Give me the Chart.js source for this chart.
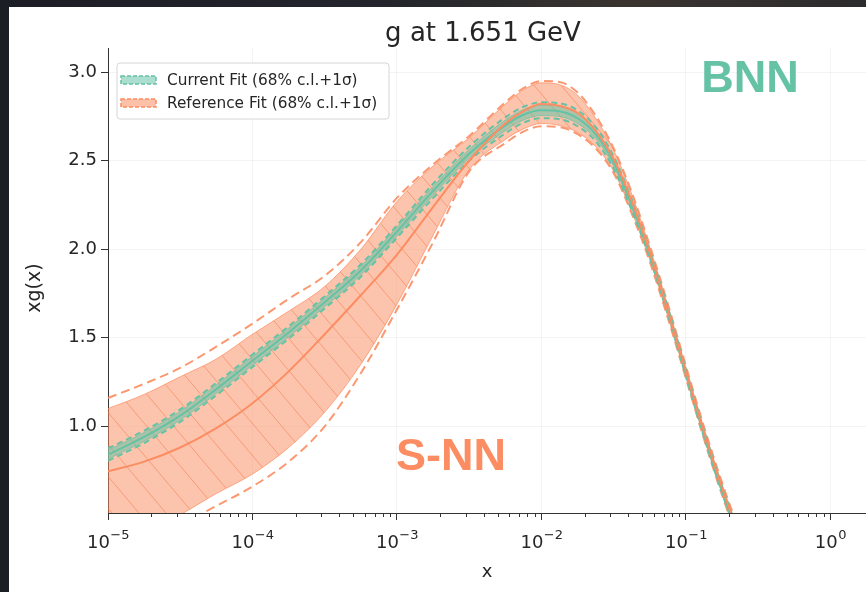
<!DOCTYPE html>
<html>
<head>
<meta charset="utf-8">
<script src="https://cdn.jsdelivr.net/npm/chart.js@4.4.1/dist/chart.umd.min.js"></script>
<style>
  html, body { margin: 0; padding: 0; width: 866px; height: 592px; overflow: hidden; }
  body { background: linear-gradient(90deg, #1b1e24 0%, #22252b 45%, #3a342f 72%, #2c2b2d 100%); position: relative; }
  #frame { position: absolute; left: 9px; top: 7px; width: 857px; height: 585px; background: #ffffff; }
  canvas { display: block; }
</style>
</head>
<body>
<div id="frame"><canvas id="pdf" width="857" height="585"></canvas></div>
<script>
// x grid of the PDF evaluation
const xValues = [1e-5, 1.78e-5, 3.16e-5, 5.62e-5, 1e-4, 1.78e-4, 3.16e-4, 5.62e-4, 1e-3, 1.78e-3,
                 3.16e-3, 5.62e-3, 7.5e-3, 1e-2, 1.33e-2, 1.78e-2, 2.37e-2, 3.16e-2, 4.22e-2, 5.62e-2,
                 7.5e-2, 0.1, 0.133, 0.178, 0.316];

// Current fit (BNN): central value, 68% c.l. band, 1-sigma band
const currentCentral = [0.84, 0.94, 1.06, 1.21, 1.37, 1.53, 1.70, 1.88, 2.10, 2.33,
                        2.54, 2.70, 2.76, 2.785, 2.78, 2.74, 2.65, 2.49, 2.25, 1.97,
                        1.65, 1.30, 0.96, 0.63, 0.08];
const currentCLUpper = [0.865, 0.965, 1.085, 1.235, 1.395, 1.555, 1.725, 1.905, 2.125, 2.355,
                        2.565, 2.73, 2.79, 2.815, 2.81, 2.77, 2.675, 2.51, 2.27, 1.985,
                        1.665, 1.315, 0.975, 0.655, 0.095];
const currentCLLower = [0.815, 0.915, 1.035, 1.185, 1.345, 1.505, 1.675, 1.855, 2.075, 2.305,
                        2.515, 2.67, 2.73, 2.755, 2.75, 2.71, 2.625, 2.47, 2.23, 1.955,
                        1.635, 1.285, 0.945, 0.625, 0.065];
const currentSigmaUpper = [0.875, 0.975, 1.095, 1.245, 1.405, 1.565, 1.735, 1.915, 2.135, 2.37,
                           2.58, 2.745, 2.805, 2.83, 2.825, 2.785, 2.69, 2.525, 2.28, 1.99,
                           1.67, 1.32, 0.98, 0.66, 0.10];
const currentSigmaLower = [0.805, 0.905, 1.025, 1.175, 1.335, 1.495, 1.665, 1.845, 2.065, 2.29,
                           2.50, 2.655, 2.715, 2.74, 2.735, 2.695, 2.61, 2.455, 2.22, 1.95,
                           1.63, 1.28, 0.94, 0.62, 0.06];

// Reference fit (S-NN): central value, 68% c.l. band, 1-sigma band
const referenceCentral = [0.745, 0.80, 0.88, 0.99, 1.13, 1.31, 1.52, 1.74, 1.97, 2.24,
                          2.50, 2.71, 2.78, 2.82, 2.81, 2.77, 2.67, 2.51, 2.27, 1.98,
                          1.65, 1.31, 0.97, 0.65, 0.09];
const referenceCLUpper = [1.10, 1.18, 1.28, 1.38, 1.52, 1.65, 1.79, 2.00, 2.27, 2.47,
                          2.63, 2.82, 2.90, 2.94, 2.93, 2.87, 2.74, 2.56, 2.31, 2.01,
                          1.68, 1.33, 0.99, 0.67, 0.11];
const referenceCLLower = [0.30, 0.40, 0.50, 0.62, 0.73, 0.88, 1.08, 1.35, 1.69, 2.08,
                          2.45, 2.62, 2.68, 2.71, 2.70, 2.66, 2.58, 2.44, 2.21, 1.94,
                          1.62, 1.28, 0.94, 0.62, 0.06];
const referenceSigmaUpper = [1.16, 1.24, 1.33, 1.45, 1.58, 1.72, 1.85, 2.04, 2.29, 2.48,
                             2.64, 2.83, 2.91, 2.95, 2.945, 2.885, 2.755, 2.57, 2.32, 2.02,
                             1.69, 1.34, 1.00, 0.68, 0.12];
const referenceSigmaLower = [0.22, 0.32, 0.44, 0.55, 0.66, 0.80, 1.00, 1.30, 1.66, 2.04,
                             2.44, 2.60, 2.665, 2.695, 2.69, 2.65, 2.57, 2.43, 2.20, 1.93,
                             1.61, 1.27, 0.93, 0.61, 0.05];

// axis ticks
const xMajorTicks = [1e-5, 1e-4, 1e-3, 1e-2, 1e-1, 1];
const xTickBase = '10';
const xTickExponents = ['\u22125', '\u22124', '\u22123', '\u22122', '\u22121', '0'];
const minorMultipliers = [2, 3, 4, 5, 6, 7, 8, 9];
const yTicks = [1.0, 1.5, 2.0, 2.5, 3.0];
const yTickLabels = ['1.0', '1.5', '2.0', '2.5', '3.0'];

const titleText = 'g at 1.651 GeV';
const yTitleText = 'xg(x)';
const legendItems = [
  { label: 'Current Fit (68% c.l.+1\u03C3)', fill: 'rgba(102,194,165,0.55)', edge: '#66c2a5' },
  { label: 'Reference Fit (68% c.l.+1\u03C3)', fill: 'rgba(252,141,98,0.55)', edge: '#fc8d62' }
];

const GREEN = '#66c2a5';
const ORANGE = '#fc8d62';
const TEXT = '#262626';
const FONT = '"DejaVu Sans", "Liberation Sans", sans-serif';

function pts(series) {
  return xValues.map((x, i) => ({ x: x, y: series[i] }));
}

// hatched fill for the reference band
function hatchPattern() {
  const w = 27, h = 32;
  const c = document.createElement('canvas');
  c.width = w; c.height = h;
  const g = c.getContext('2d');
  g.fillStyle = 'rgba(252,141,98,0.52)';
  g.fillRect(0, 0, w, h);
  g.strokeStyle = 'rgba(240,120,75,0.55)';
  g.lineWidth = 1;
  for (const k of [-1, 0, 1]) {
    g.beginPath();
    g.moveTo(-w, -h + k * h);
    g.lineTo(2 * w, 2 * h + k * h);
    g.stroke();
  }
  return g.createPattern(c, 'repeat');
}

const baseLine = {
  pointRadius: 0,
  pointHoverRadius: 0,
  cubicInterpolationMode: 'monotone',
  fill: false
};

const datasets = [
  Object.assign({}, baseLine, { label: 'ref-central', data: pts(referenceCentral), borderColor: ORANGE, borderWidth: 2, order: 0 }),
  Object.assign({}, baseLine, { label: 'cur-central', data: pts(currentCentral), borderColor: GREEN, borderWidth: 2, order: 1 }),
  Object.assign({}, baseLine, { label: 'cur-sigma-up', data: pts(currentSigmaUpper), borderColor: GREEN, borderWidth: 2, borderDash: [6, 4], order: 2 }),
  Object.assign({}, baseLine, { label: 'cur-sigma-lo', data: pts(currentSigmaLower), borderColor: GREEN, borderWidth: 2, borderDash: [6, 4], order: 3 }),
  Object.assign({}, baseLine, { label: 'cur-cl-up', data: pts(currentCLUpper), borderColor: 'rgba(102,194,165,0.7)', borderWidth: 1, fill: '+1', backgroundColor: 'rgba(102,194,165,0.55)', order: 4 }),
  Object.assign({}, baseLine, { label: 'cur-cl-lo', data: pts(currentCLLower), borderColor: 'rgba(102,194,165,0.7)', borderWidth: 1, order: 5 }),
  Object.assign({}, baseLine, { label: 'ref-sigma-up', data: pts(referenceSigmaUpper), borderColor: 'rgba(252,141,98,0.9)', borderWidth: 2, borderDash: [9, 5], order: 6 }),
  Object.assign({}, baseLine, { label: 'ref-sigma-lo', data: pts(referenceSigmaLower), borderColor: 'rgba(252,141,98,0.9)', borderWidth: 2, borderDash: [9, 5], order: 7 }),
  Object.assign({}, baseLine, { label: 'ref-cl-up', data: pts(referenceCLUpper), borderColor: 'rgba(252,141,98,0.75)', borderWidth: 1, fill: '+1', backgroundColor: hatchPattern(), order: 8 }),
  Object.assign({}, baseLine, { label: 'ref-cl-lo', data: pts(referenceCLLower), borderColor: 'rgba(252,141,98,0.75)', borderWidth: 1, order: 9 })
];

// short minor ticks and power-of-ten labels on the log axis
const logAxisPlugin = {
  id: 'logAxis',
  afterDraw(chart) {
    const s = chart.scales.x, a = chart.chartArea, ctx = chart.ctx;
    ctx.save();
    ctx.strokeStyle = '#333';
    ctx.lineWidth = 1;
    for (const d of xMajorTicks) {
      for (const m of minorMultipliers) {
        const p = Math.round(s.getPixelForValue(d * m)) + 0.5;
        if (p < a.left || p > a.right) continue;
        ctx.beginPath();
        ctx.moveTo(p, a.bottom);
        ctx.lineTo(p, a.bottom + 4);
        ctx.stroke();
      }
    }
    const baseFont = '18px ' + FONT, expFont = '13px ' + FONT;
    ctx.fillStyle = TEXT;
    ctx.textBaseline = 'alphabetic';
    ctx.textAlign = 'left';
    xMajorTicks.forEach((v, i) => {
      const p = s.getPixelForValue(v);
      ctx.font = baseFont;
      const wb = ctx.measureText(xTickBase).width;
      ctx.font = expFont;
      const we = ctx.measureText(xTickExponents[i]).width;
      const left = p - (wb + we) / 2;
      const baseline = a.bottom + 35;
      ctx.font = baseFont;
      ctx.fillText(xTickBase, left, baseline);
      ctx.font = expFont;
      ctx.fillText(xTickExponents[i], left + wb + 0.5, baseline - 9);
    });
    ctx.restore();
  }
};

// title, y-axis label, legend box and method labels
const decorPlugin = {
  id: 'decor',
  afterDraw(chart) {
    const ctx = chart.ctx, a = chart.chartArea;
    ctx.save();
    ctx.fillStyle = TEXT;
    ctx.font = '26px ' + FONT;
    ctx.textAlign = 'center';
    ctx.textBaseline = 'middle';
    ctx.fillText(titleText, 474, 27);

    ctx.save();
    ctx.translate(26, 281);
    ctx.rotate(-Math.PI / 2);
    ctx.font = '19px ' + FONT;
    ctx.fillText(yTitleText, 0, 0);
    ctx.restore();

    // legend frame
    const x0 = a.left + 9, y0 = a.top + 15, w = 272, h = 56, r = 3;
    ctx.beginPath();
    ctx.moveTo(x0 + r, y0);
    ctx.arcTo(x0 + w, y0, x0 + w, y0 + h, r);
    ctx.arcTo(x0 + w, y0 + h, x0, y0 + h, r);
    ctx.arcTo(x0, y0 + h, x0, y0, r);
    ctx.arcTo(x0, y0, x0 + w, y0, r);
    ctx.closePath();
    ctx.fillStyle = 'rgba(255,255,255,0.85)';
    ctx.fill();
    ctx.strokeStyle = '#d6d6d6';
    ctx.lineWidth = 1;
    ctx.stroke();

    legendItems.forEach((item, i) => {
      const cy = y0 + 17 + i * 23;
      ctx.fillStyle = item.fill;
      ctx.fillRect(x0 + 4, cy - 4, 35, 8);
      ctx.setLineDash([4, 2]);
      ctx.strokeStyle = item.edge;
      ctx.lineWidth = 1.5;
      ctx.strokeRect(x0 + 4, cy - 4, 35, 8);
      ctx.setLineDash([]);
      ctx.fillStyle = TEXT;
      ctx.font = '15.3px ' + FONT;
      ctx.textAlign = 'left';
      ctx.textBaseline = 'middle';
      ctx.fillText(item.label, x0 + 50, cy + 1);
    });

    ctx.font = 'bold 45px "Liberation Sans", Arial, sans-serif';
    ctx.textAlign = 'center';
    ctx.textBaseline = 'middle';
    ctx.fillStyle = GREEN;
    ctx.fillText('BNN', 741, 73);
    ctx.fillStyle = ORANGE;
    ctx.fillText('S-NN', 442, 451);
    ctx.restore();
  }
};

new Chart(document.getElementById('pdf'), {
  type: 'line',
  data: { datasets: datasets },
  options: {
    responsive: false,
    animation: false,
    devicePixelRatio: 1,
    layout: { padding: { top: 41, left: 0, right: 0, bottom: 0 } },
    plugins: {
      legend: { display: false },
      tooltip: { enabled: false },
      filler: { propagate: false }
    },
    scales: {
      x: {
        type: 'logarithmic',
        min: 1e-5,
        max: 1.762,
        afterBuildTicks(s) { s.ticks = xMajorTicks.map(v => ({ value: v, major: true })); },
        afterFit(s) { s.height = 79; },
        ticks: {
          autoSkip: false,
          maxRotation: 0,
          callback: () => ''
        },
        grid: { color: 'rgba(0,0,0,0.045)', tickColor: '#333', tickLength: 7 },
        border: { display: true, color: '#333', width: 1 },
        title: { display: true, text: 'x', color: TEXT, font: { family: FONT, size: 18 }, padding: { top: 0, bottom: 9 } }
      },
      y: {
        type: 'linear',
        min: 0.51,
        max: 3.137,
        afterBuildTicks(s) { s.ticks = yTicks.map(v => ({ value: v })); },
        afterFit(s) { s.width = 99; },
        ticks: {
          padding: 4,
          color: TEXT,
          font: { family: FONT, size: 18 },
          callback: (v, i) => yTickLabels[i]
        },
        grid: { color: 'rgba(0,0,0,0.045)', tickColor: '#333', tickLength: 7 },
        border: { display: true, color: '#333', width: 1 }
      }
    }
  },
  plugins: [logAxisPlugin, decorPlugin]
});
</script>
</body>
</html>
